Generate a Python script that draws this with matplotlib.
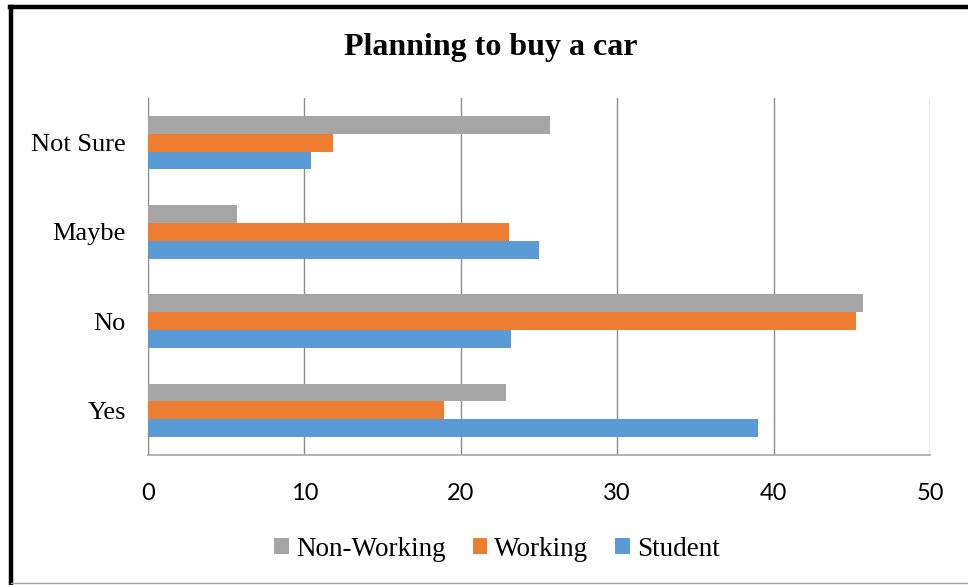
import numpy as np
import matplotlib
matplotlib.use('Agg')
import matplotlib.pyplot as plt
from matplotlib.lines import Line2D

# survey answers, bottom to top
categories = ['Yes', 'No', 'Maybe', 'Not Sure']
student = [39.0, 23.2, 25.0, 10.4]
working = [18.9, 45.3, 23.1, 11.8]
non_working = [22.9, 45.7, 5.7, 25.7]

c_student = '#5B9BD5'
c_working = '#ED7D31'
c_nonwork = '#A5A5A5'

fig = plt.figure(figsize=(9.68, 5.85), dpi=100)
ax = fig.add_axes([148 / 968, 1 - 455 / 585, (930 - 148) / 968, (455 - 98) / 585])

y = np.arange(len(categories))
h = 0.2
ax.barh(y - h, student, height=h, color=c_student, label='Student', zorder=3)
ax.barh(y, working, height=h, color=c_working, label='Working', zorder=3)
ax.barh(y + h, non_working, height=h, color=c_nonwork, label='Non-Working', zorder=3)

ax.set_xlim(0, 50)
ax.set_ylim(-0.5, 3.5)
ax.set_xticks(np.arange(0, 51, 10))
ax.set_yticks(y)
ax.set_yticklabels(categories, family='Liberation Serif', fontsize=19)
for lab in ax.get_xticklabels():
    lab.set_family('Lato')
    lab.set_fontsize(17)
ax.tick_params(axis='both', length=0)
ax.tick_params(axis='x', pad=20)
ax.tick_params(axis='y', pad=16)

ax.grid(axis='x', color='#8c8c8c', linewidth=1.0, zorder=0)
for side in ['top', 'right']:
    ax.spines[side].set_visible(False)
ax.spines['left'].set_color('#8c8c8c')
ax.spines['bottom'].set_color('#a6a6a6')
ax.spines['bottom'].set_linewidth(1.2)

fig.text(491 / 968, 1 - 48 / 585, 'Planning to buy a car', ha='center', va='center',
         family='Liberation Serif', fontweight='bold', fontsize=23)

handles, labels = ax.get_legend_handles_labels()
leg = fig.legend(handles[::-1], labels[::-1], loc='center', ncol=3,
                 bbox_to_anchor=(497 / 968, 1 - 549 / 585), frameon=False,
                 handlelength=0.55, handleheight=0.55, handletextpad=0.25, columnspacing=1.0,
                 prop={'family': 'Liberation Serif', 'size': 19.5})

# outer frame: thick black on top and left, thin gray bottom
fig.add_artist(Line2D([11 / 968, 11 / 968], [0.0, 1 - 7 / 585], color='black', linewidth=3.2))
fig.add_artist(Line2D([9.5 / 968, 1.0], [1 - 7 / 585, 1 - 7 / 585], color='black', linewidth=3.2))
fig.add_artist(Line2D([11 / 968, 1.0], [1 - 583 / 585, 1 - 583 / 585], color='#a0a0a0', linewidth=1.0))

fig.savefig('out.png', dpi=100)
